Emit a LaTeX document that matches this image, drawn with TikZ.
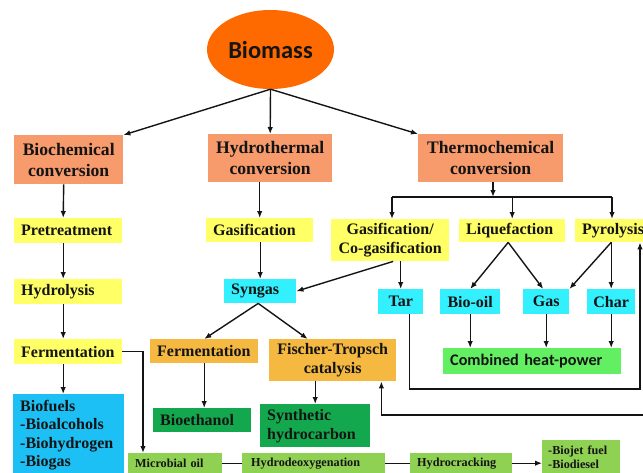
\documentclass[tikz,border=0pt]{standalone}
\usepackage{fontspec}
\setmainfont{Liberation Serif}
\newfontfamily\calib{Carlito}
\usetikzlibrary{arrows.meta,shapes.geometric,calc}
\hyphenpenalty=10000
\exhyphenpenalty=10000
\definecolor{salmon}{HTML}{F79A6C}
\definecolor{yel}{HTML}{FFFF66}
\definecolor{cyn}{HTML}{33F0FF}
\definecolor{skyb}{HTML}{1CC0F5}
\definecolor{orng}{HTML}{F5B841}
\definecolor{dgreen}{HTML}{14A84E}
\definecolor{lgreen}{HTML}{62EF62}
\definecolor{bgreen}{HTML}{8FD152}
\definecolor{bioor}{HTML}{FF6A00}
\definecolor{ink}{HTML}{141414}
\begin{document}
\begin{tikzpicture}[x=1pt,y=-1pt,
  bx/.style={rectangle, anchor=north west, inner xsep=7pt, inner ysep=0pt, text=ink, align=left,
    font=\bfseries\fontsize{16}{19}\selectfont},
  cbx/.style={rectangle, anchor=north west, inner sep=0pt, text=ink, align=center,
    font=\bfseries\fontsize{16}{19}\selectfont},
  title/.style={cbx, fill=salmon, font=\bfseries\fontsize{17.6}{21}\selectfont},
  small/.style={font=\bfseries\fontsize{12.2}{14}\selectfont},
  ln/.style={draw=ink, line width=1.4pt},
  arr/.style={draw=ink, line width=1.4pt, -{Latex[length=7pt,width=5.5pt]}}
]
\useasboundingbox (0,0) rectangle (643,472);
\clip (0,0) rectangle (643,472);

% top
\node[ellipse, fill=bioor, minimum width=127pt, minimum height=79pt, inner sep=0pt, text=ink,
  font=\calib\bfseries\fontsize{24.5}{29}\selectfont] (bio) at (270.5,49.5) {Biomass};
\node[title, minimum width=109pt, minimum height=49pt] (biochem) at (14,135) {Biochemical\\conversion};
\node[title, minimum width=124pt, minimum height=48pt] (hydro) at (208,134) {Hydrothermal\\conversion};
\node[title, minimum width=145pt, minimum height=48pt] (thermo) at (418,134) {Thermochemical\\conversion};

% biochemical column
\node[bx, fill=yel, text width=94pt, minimum height=25pt] (pre) at (14,218) {Pretreatment};
\node[bx, fill=yel, text width=94pt, minimum height=25pt] (hyd) at (14,279) {Hydrolysis};
\node[bx, fill=yel, text width=94pt, minimum height=25pt] (fermL) at (14,339) {Fermentation};
\node[bx, fill=skyb, text width=97pt, inner ysep=6pt,
  font=\bfseries\fontsize{16}{18.3}\selectfont] (biofuels) at (13,394)
  {Biofuels\\-Bioalcohols\\-Biohydrogen\\-Biogas};

% hydrothermal column
\node[bx, fill=yel, text width=93pt, minimum height=24pt] (gasM) at (206,218) {Gasification};
\node[bx, fill=cyn, text width=58pt, minimum height=24pt] (syngas) at (224,279) {Syngas};
\node[bx, fill=orng, text width=94pt, minimum height=24pt] (fermM) at (150,339) {Fermentation};
\node[cbx, fill=orng, minimum width=127pt, minimum height=42pt] (ft) at (269,339) {Fischer-Tropsch\\catalysis};
\node[bx, fill=dgreen, text width=84pt, minimum height=24pt] (bioeth) at (153,408) {Bioethanol};
\node[bx, fill=dgreen, text width=96pt, minimum height=43pt] (synth) at (260,404) {Synthetic\\hydrocarbon};

% bottom row
\node[bx, small, fill=bgreen, text width=80pt, minimum height=20pt] (micro) at (128,453) {Microbial oil};
\node[bx, small, fill=bgreen, inner xsep=9pt, text width=125pt, minimum height=20pt] (hdo) at (242,453) {Hydrodeoxygenation};
\node[bx, small, fill=bgreen, text width=88pt, minimum height=20pt] (hc) at (410,453) {Hydrocracking};
\node[bx, small, fill=bgreen, inner xsep=6pt, text width=66pt, minimum height=34pt] (jet) at (542,440) {-Biojet fuel\\-Biodiesel};

% thermochemical
\node[cbx, fill=yel, minimum width=118pt, minimum height=42pt] (gco) at (331,219) {Gasification/\\Co-gasification};
\node[bx, fill=yel, text width=92pt, minimum height=23pt] (liq) at (459,219) {Liquefaction};
\node[bx, fill=yel, text width=71pt, minimum height=23pt] (pyr) at (575,219) {Pyrolysis};
\node[cbx, fill=cyn, minimum width=45pt, minimum height=25pt] (tar) at (378,289) {Tar};
\node[cbx, fill=cyn, minimum width=60pt, minimum height=25pt] (biooil) at (440,289) {Bio-oil};
\node[cbx, fill=cyn, minimum width=46pt, minimum height=25pt] (gas) at (523,289) {Gas};
\node[cbx, fill=cyn, minimum width=48pt, minimum height=25pt] (char) at (587,289) {Char};
\node[bx, fill=lgreen, text width=164pt, minimum height=26pt,
  font=\calib\bfseries\fontsize{16.2}{19}\selectfont] (chp) at (443,348) {Combined heat-power};

% coordinates
\coordinate (tj) at (493,197);
\coordinate (tl) at (392,197);
\coordinate (tr) at (612,197);
\coordinate (loopc) at (640,389);
\coordinate (edge) at (650,415);

% biomass branches
\draw[arr] (bio.south) -- (biochem.north east);
\draw[arr] (bio.south) -- (hydro.north);
\draw[arr] (bio.south) -- (thermo.north west);

% biochemical
\draw[arr] ([xshift=-5pt]biochem.south) -- ([xshift=-5pt]pre.north);
\draw[arr] ([xshift=-5pt]pre.south) -- ([xshift=-5pt]hyd.north);
\draw[arr] ([xshift=-5pt]hyd.south) -- ([xshift=-5pt]fermL.north);
\draw[arr] ([xshift=-5pt]fermL.south) -- ([xshift=-5.5pt]biofuels.north);
\draw[arr] (fermL.east) -| ([xshift=15pt]micro.north west);
\draw[ln] (micro.east) -- (hdo.west);
\draw[ln] (hdo.east) -- (hc.west);
\draw[arr] (hc.east) -- (hc.east -| jet.west);

% hydrothermal
\draw[arr] (gasM.north |- hydro.south) -- (gasM.north);
\draw[arr] (syngas.north |- gasM.south) -- (syngas.north);
\draw[arr] ([xshift=-2pt]syngas.south) -- (fermM.north);
\draw[arr] ([xshift=-2pt]syngas.south) -- ([xshift=-25pt]ft.north);
\draw[arr] (fermM.south) -- (fermM.south |- bioeth.north);
\draw[arr] (synth.north |- ft.south) -- (synth.north);

% thermochemical
\draw[arr] (thermo.south -| tj) -- (tj);
\draw[ln] (tl) -- (tr);
\draw[arr] (tl) -- (tl |- gco.north);
\draw[arr] (liq.north |- tj) -- (liq.north);
\draw[arr] (tr) -- (tr |- pyr.north);
\draw[arr] (tar.north |- gco.south) -- (tar.north);
\draw[arr] ([xshift=3pt]gco.south) -- (syngas.east);
\draw[arr] ([xshift=-4pt]liq.south) -- (biooil.north);
\draw[arr] ([xshift=-4pt]liq.south) -- ([xshift=-3pt]gas.north);
\draw[arr] (char.north |- pyr.south) -- (gas.north east);
\draw[arr] (char.north |- pyr.south) -- (char.north);
\draw[arr] (biooil.south) -- (biooil.south |- chp.north);
\draw[arr] (gas.south) -- (gas.south |- chp.north);
\draw[arr] (char.south) -- (char.south |- chp.north);
\draw[arr] ([xshift=8.5pt]tar.south) |- (loopc) -- (loopc |- pyr.south);
\draw[arr] (edge) -| ([xshift=-15pt]ft.south east);
\end{tikzpicture}
\end{document}
